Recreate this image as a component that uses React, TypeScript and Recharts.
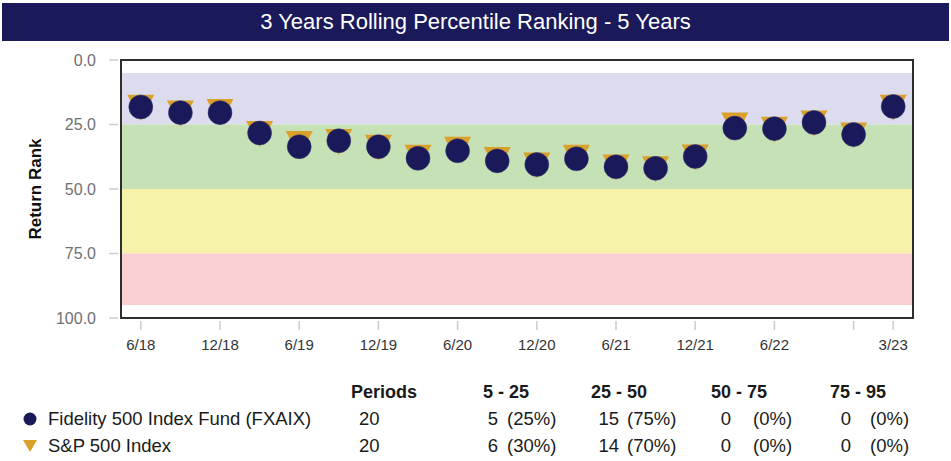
import React from "react";
import {
  ReferenceArea,
  Scatter,
  ScatterChart,
  XAxis,
  YAxis
} from "recharts";

const quarters = [
  "6/18", "9/18", "12/18", "3/19", "6/19", "9/19", "12/19", "3/20", "6/20", "9/20",
  "12/20", "3/21", "6/21", "9/21", "12/21", "3/22", "6/22", "9/22", "12/22", "3/23"
];
const fundRank = [
  18.2, 20.4, 20.4, 28.3, 33.6, 31.3, 33.6, 38.1, 35.2, 39.1,
  40.5, 38.3, 41.4, 42.0, 37.4, 26.4, 26.6, 24.2, 28.9, 18.0
];
const benchRank = [
  16.8, 19.1, 18.5, 27.0, 30.9, 30.1, 32.3, 36.2, 33.1, 37.1,
  39.2, 36.2, 40.0, 40.7, 36.1, 23.7, 25.4, 22.9, 27.6, 16.8
];
const tickQuarters = ["6/18", "12/18", "6/19", "12/19", "6/20", "12/20", "6/21", "12/21", "6/22", "12/22", "3/23"];
const shownTickLabels = ["6/18", "12/18", "6/19", "12/19", "6/20", "12/20", "6/21", "12/21", "6/22", "3/23"];
const yTicks = [0, 25, 50, 75, 100];

const bands = [
  { from: 5, to: 25, color: "#dcdcee" },
  { from: 25, to: 50, color: "#c6e1b6" },
  { from: 50, to: 75, color: "#f6f2aa" },
  { from: 75, to: 95, color: "#f9cfd2" }
];

const tableHeaders = ["Periods", "5 - 25", "25 - 50", "50 - 75", "75 - 95"];
const fundName = "Fidelity 500 Index Fund (FXAIX)";
const benchName = "S&P 500 Index";
const fundPeriods = 20;
const benchPeriods = 20;
const fundCounts = [5, 15, 0, 0];
const benchCounts = [6, 14, 0, 0];

const NAVY = "#1a1a5a";
const GOLD = "#d9a02b";
const FONT = "'Liberation Sans', Arial, Helvetica, sans-serif";

const fundData = fundRank.map((v, i) => ({ i, v }));
const benchData = benchRank.map((v, i) => ({ i, v }));
const xTicks = tickQuarters.map((q) => quarters.indexOf(q));

// table column positions
const headerX = [351, 483, 591, 711, 830];
const countRightX = [498, 619, 731, 851];
const pctLeftX = [507, 627, 753, 870];

const Circle = (p: any) => (
  <circle cx={p.cx} cy={p.cy} r={12} fill={NAVY} stroke="#3a3a70" strokeWidth={0.5} />
);

const DownTriangle = (p: any) => {
  const w = 27;
  const h = 26;
  const top = p.cy - h / 3;
  return (
    <path
      d={`M${p.cx - w / 2},${top} L${p.cx + w / 2},${top} L${p.cx},${top + h} Z`}
      fill={GOLD}
    />
  );
};

const XTick = (p: any) => {
  const label = quarters[p.payload.value];
  return (
    <g>
      <line x1={p.x} x2={p.x} y1={p.y + 3} y2={p.y + 12} stroke="#cccccc" strokeWidth={1.5} />
      {shownTickLabels.includes(label) && (
        <text x={p.x} y={p.y + 32} textAnchor="middle" fontSize={15} fill="#333" fontFamily={FONT}>
          {label}
        </text>
      )}
    </g>
  );
};

const YTick = (p: any) => (
  <g>
    <line x1={p.x - 12} x2={p.x - 3} y1={p.y} y2={p.y} stroke="#cccccc" strokeWidth={1.5} />
    <text x={p.x - 25} y={p.y + 5.5} textAnchor="end" fontSize={16} fill="#707070" fontFamily={FONT}>
      {p.payload.value.toFixed(1)}
    </text>
  </g>
);

const YLabel = (p: any) => {
  const vb = p.viewBox;
  const cx = 35;
  const cy = vb.y + vb.height / 2;
  return (
    <text
      x={cx}
      y={cy}
      transform={`rotate(-90 ${cx} ${cy})`}
      textAnchor="middle"
      dominantBaseline="central"
      fontSize={17}
      fontWeight="bold"
      fill="#111"
      fontFamily={FONT}
    >
      Return Rank
    </text>
  );
};

const StatCells = ({ periods, counts, top }: { periods: number; counts: number[]; top: number }) => (
  <>
    <div style={{ position: "absolute", left: 359, top }}>{periods}</div>
    {counts.map((c, k) => (
      <React.Fragment key={k}>
        <div style={{ position: "absolute", left: countRightX[k] - 40, width: 40, textAlign: "right", top }}>{c}</div>
        <div style={{ position: "absolute", left: pctLeftX[k], top }}>({Math.round((c / periods) * 100)}%)</div>
      </React.Fragment>
    ))}
  </>
);

export default function App() {
  return (
    <div
      style={{
        position: "absolute",
        left: 0,
        top: 0,
        width: 951,
        height: 461,
        background: "#fff",
        fontFamily: FONT,
        color: "#1a1a1a"
      }}
    >
      <div
        style={{
          position: "absolute",
          left: 2,
          top: 3,
          width: 947,
          height: 38,
          background: NAVY,
          color: "#fff",
          fontSize: 22,
          lineHeight: "38px",
          textAlign: "center"
        }}
      >
        3 Years Rolling Percentile Ranking - 5 Years
      </div>
      <div style={{ position: "absolute", left: 0, top: 0 }}>
        <ScatterChart width={951} height={362} margin={{ top: 60, right: 38, bottom: 14, left: 0 }}>
          {bands.map((b) => (
            <ReferenceArea
              key={b.from}
              x1={-0.5}
              x2={19.5}
              y1={b.from}
              y2={b.to}
              fill={b.color}
              fillOpacity={1}
              stroke="none"
            />
          ))}
          <ReferenceArea
            x1={-0.5}
            x2={19.5}
            y1={0}
            y2={100}
            fill="none"
            stroke="#2e2e2e"
            strokeWidth={2}
          />
          <XAxis
            type="number"
            dataKey="i"
            domain={[-0.5, 19.5]}
            ticks={xTicks}
            interval={0}
            height={30}
            tickSize={0}
            tickMargin={0}
            axisLine={false}
            tickLine={false}
            tick={<XTick />}
          />
          <YAxis
            type="number"
            dataKey="v"
            domain={[0, 100]}
            reversed
            ticks={yTicks}
            interval={0}
            width={121}
            tickSize={0}
            tickMargin={0}
            axisLine={false}
            tickLine={false}
            tick={<YTick />}
            label={{ content: <YLabel /> }}
          />
          <Scatter name={benchName} data={benchData} shape={<DownTriangle />} isAnimationActive={false} />
          <Scatter name={fundName} data={fundData} shape={<Circle />} isAnimationActive={false} />
        </ScatterChart>
      </div>
      <div style={{ position: "absolute", left: 0, top: 0, fontSize: 18.5, lineHeight: "21px" }}>
        {tableHeaders.map((h, k) => (
          <div
            key={h}
            style={{ position: "absolute", left: headerX[k], top: 382, fontWeight: "bold", fontSize: 18, whiteSpace: "nowrap" }}
          >
            {h}
          </div>
        ))}
        <svg style={{ position: "absolute", left: 23, top: 412 }} width={14} height={14}>
          <circle cx={7} cy={7} r={6.5} fill={NAVY} />
        </svg>
        <div style={{ position: "absolute", left: 48, top: 408, whiteSpace: "nowrap" }}>{fundName}</div>
        <svg style={{ position: "absolute", left: 22, top: 439 }} width={16} height={14}>
          <path d="M1,1 L15,1 L8,13 Z" fill={GOLD} />
        </svg>
        <div style={{ position: "absolute", left: 48, top: 435, whiteSpace: "nowrap" }}>{benchName}</div>
        <StatCells periods={fundPeriods} counts={fundCounts} top={408} />
        <StatCells periods={benchPeriods} counts={benchCounts} top={435} />
      </div>
    </div>
  );
}
